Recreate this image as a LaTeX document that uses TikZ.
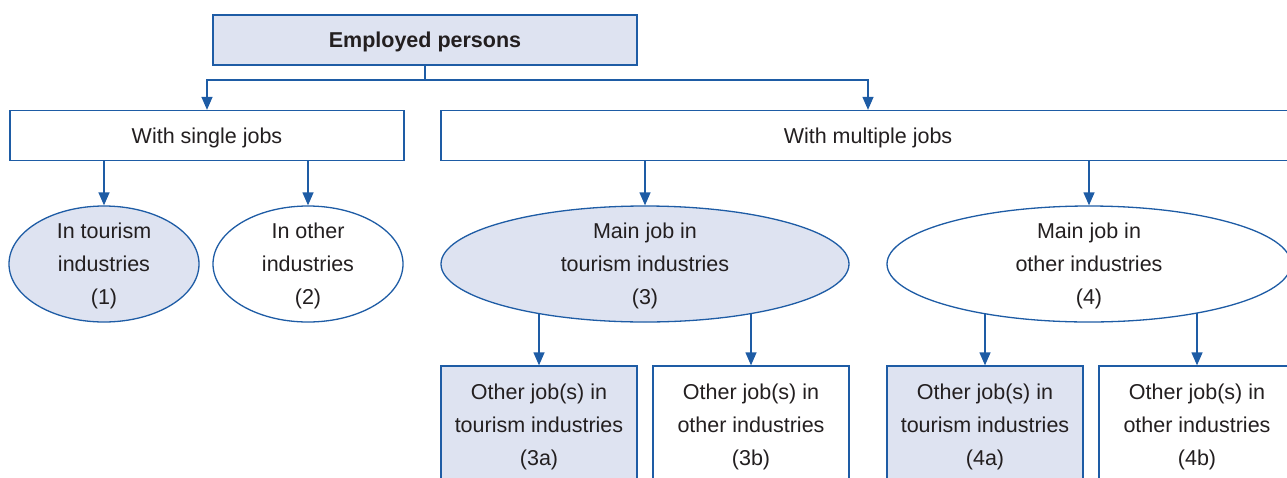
\documentclass[tikz,border=0pt]{standalone}
\usepackage{fontspec}
\setmainfont{Liberation Sans}
\usetikzlibrary{arrows.meta,shapes.geometric,backgrounds}
\definecolor{edgeblue}{RGB}{30,92,165}
\definecolor{shade}{RGB}{222,227,241}
\definecolor{ink}{RGB}{35,31,32}
\begin{document}
\begin{tikzpicture}[x=1pt,y=-1pt,
  lbl/.style={font=\fontsize{21.5}{33}\selectfont, text=ink, align=center,
    inner sep=0pt, text depth=-1pt, draw=edgeblue, line width=1.3pt},
  box/.style={lbl, rectangle, fill=white},
  oval/.style={lbl, ellipse, fill=white, minimum height=116pt},
  tint/.style={fill=shade},
  link/.style={draw=edgeblue, line width=1.3pt},
  arr/.style={link, -{Triangle[length=13pt,width=11pt]}}]
\useasboundingbox (0,0) rectangle (1287,477);
\clip (0,0) rectangle (1287,477);

% top level
\node[box, tint, minimum width=424pt, minimum height=50pt,
      font=\fontsize{21.5}{33}\selectfont\bfseries] (emp) at (425,40) {Employed persons};

% second level
\node[box, minimum width=394pt, minimum height=50pt] (single) at (207,135.5) {With single jobs};
\node[box, minimum width=854pt, minimum height=50pt] (multi) at (868,135.5) {With multiple jobs};

% third level
\node[oval, tint, minimum width=190pt] (e1) at (104,264) {In tourism\\industries\\(1)};
\node[oval, minimum width=190pt] (e2) at (308,264) {In other\\industries\\(2)};
\node[oval, tint, minimum width=408pt] (e3) at (645,264) {Main job in\\tourism industries\\(3)};
\node[oval, minimum width=404pt] (e4) at (1089,264) {Main job in\\other industries\\(4)};

% fourth level
\node[box, tint, minimum width=196pt, minimum height=118pt] (b3a) at (539,425) {Other job(s) in\\tourism industries\\(3a)};
\node[box, minimum width=196pt, minimum height=118pt] (b3b) at (751,425) {Other job(s) in\\other industries\\(3b)};
\node[box, tint, minimum width=196pt, minimum height=118pt] (b4a) at (985,425) {Other job(s) in\\tourism industries\\(4a)};
\node[box, minimum width=196pt, minimum height=118pt] (b4b) at (1197,425) {Other job(s) in\\other industries\\(4b)};

% connectors
\coordinate (split) at (425,80);
\draw[link] (emp.south) -- (split);
\draw[arr] (split) -| (single.north);
\draw[arr] (split) -| (multi.north);

\draw[arr] (single.south -| e1.north) -- (e1.north);
\draw[arr] (single.south -| e2.north) -- (e2.north);
\draw[arr] (multi.south -| e3.north) -- (e3.north);
\draw[arr] (multi.south -| e4.north) -- (e4.north);

\begin{scope}[on background layer]
  \draw[arr] (b3a.north |- e3.center) -- (b3a.north);
  \draw[arr] (b3b.north |- e3.center) -- (b3b.north);
  \draw[arr] (b4a.north |- e4.center) -- (b4a.north);
  \draw[arr] (b4b.north |- e4.center) -- (b4b.north);
\end{scope}
\end{tikzpicture}
\end{document}
